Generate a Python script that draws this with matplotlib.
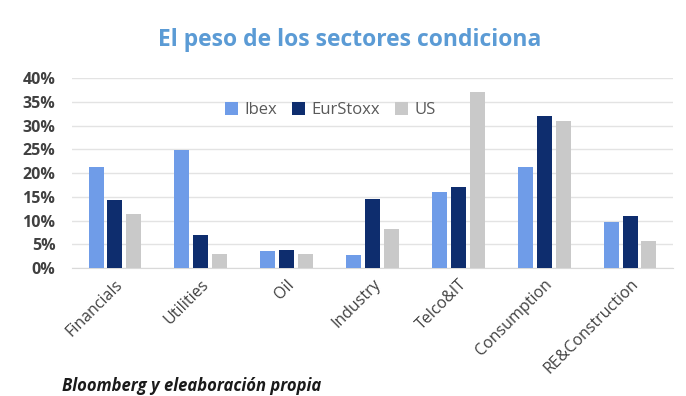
import numpy as np
import matplotlib.pyplot as plt

sectors = ['Financials', 'Utilities', 'Oil', 'Industry', 'Telco&IT', 'Consumption', 'RE&Construction']
ibex = [21.3, 24.8, 3.7, 2.7, 16.0, 21.3, 9.7]
eurstoxx = [14.3, 7.0, 3.9, 14.5, 17.0, 32.0, 11.0]
us = [11.4, 2.9, 3.0, 8.2, 37.0, 31.0, 5.8]

plt.rcParams['font.family'] = ['Open Sans', 'DejaVu Sans']

fig = plt.figure(figsize=(6.86, 3.96), dpi=100)
ax = fig.add_axes([0.105, 0.323, 0.876, 0.48])

x = np.arange(len(sectors))
w = 0.175
step = 0.22
ax.bar(x - step, ibex, w, color='#6F9CE8', label='Ibex', zorder=3)
ax.bar(x, eurstoxx, w, color='#0E2D6E', label='EurStoxx', zorder=3)
ax.bar(x + step, us, w, color='#C9C9C9', label='US', zorder=3)

ax.set_xlim(-0.5, len(sectors) - 0.5)
ax.set_ylim(0, 40)
ax.set_yticks(range(0, 41, 5))
ax.set_yticklabels([f'{v}%' for v in range(0, 41, 5)], fontsize=11.5,
                   fontweight='bold', color='#404040')
ax.set_xticks(x)
ax.set_xticklabels(sectors, rotation=45, ha='right', rotation_mode='anchor',
                   fontsize=11.5, color='#404040')
ax.tick_params(length=0)
ax.tick_params(axis='y', pad=12)
ax.tick_params(axis='x', pad=6)
ax.grid(axis='y', color='#E3E3E3', linewidth=1, zorder=0)
for s in ['top', 'right', 'left']:
    ax.spines[s].set_visible(False)
ax.spines['bottom'].set_color('#D9D9D9')

ax.legend(loc='center', bbox_to_anchor=(0.43, 0.83), ncol=3, frameon=False,
          fontsize=12, handlelength=0.75, handleheight=0.75, handletextpad=0.4,
          columnspacing=0.9, labelcolor='#595959')

fig.text(0.51, 0.898, 'El peso de los sectores condiciona', ha='center', va='center',
         fontsize=16.5, fontweight='bold', color='#5B9BD5')
fig.text(0.09, 0.025, 'Bloomberg y eleaboración propia', ha='left', va='center',
         fontsize=12, fontweight='bold', fontstyle='italic', color='#1A1A1A')

fig.savefig('out.png', dpi=100)
